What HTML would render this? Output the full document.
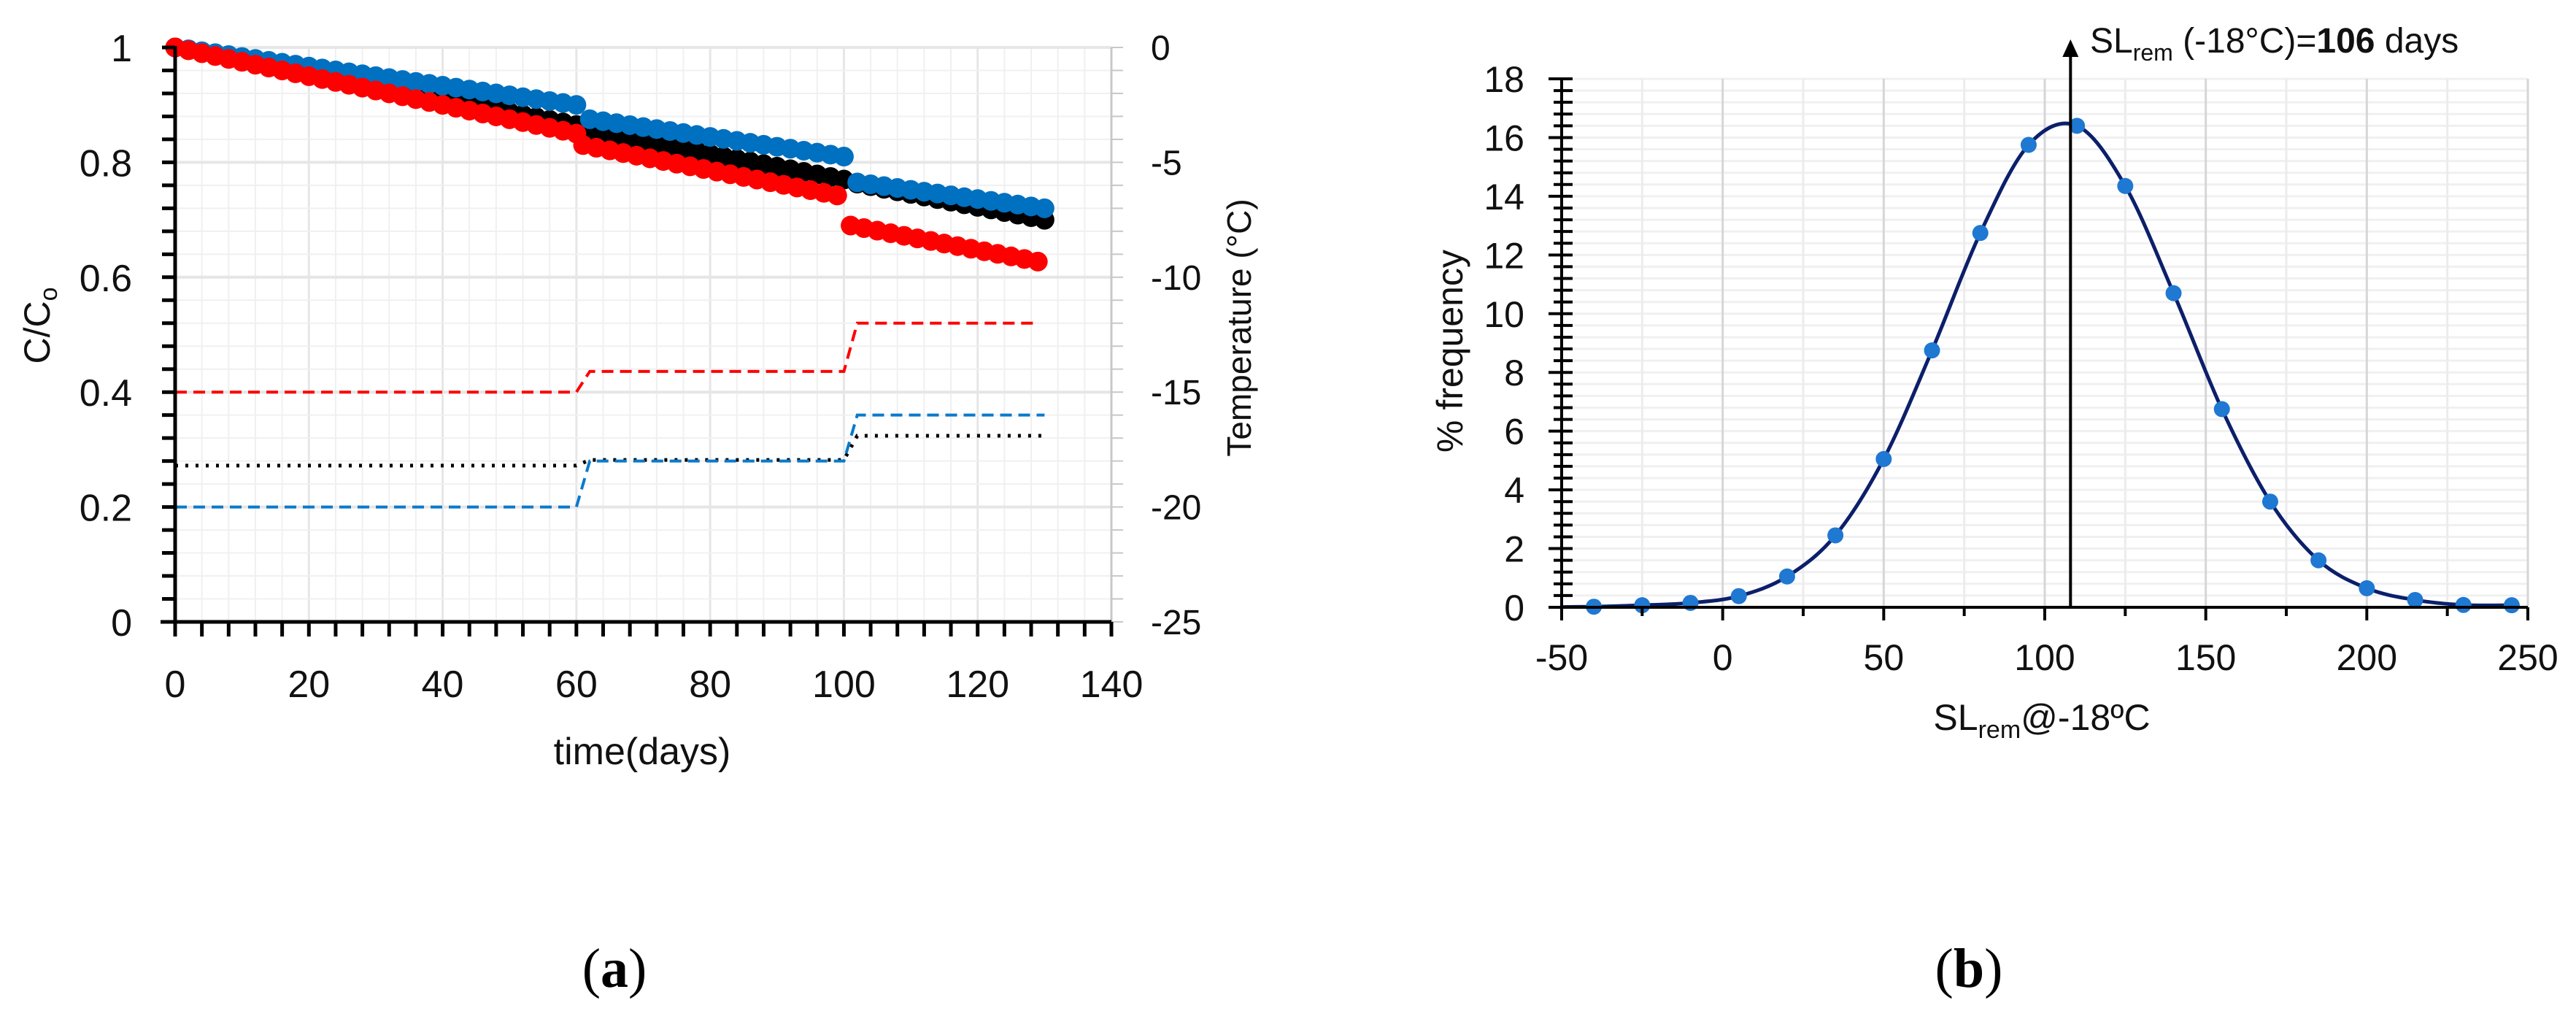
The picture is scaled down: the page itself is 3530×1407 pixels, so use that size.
<!DOCTYPE html>
<html><head><meta charset="utf-8"><style>
html,body{margin:0;padding:0;background:#fff}
svg{display:block}
text{font-family:"Liberation Sans Narrow","Liberation Sans",sans-serif}
</style></head><body>
<svg id="fig" width="3530" height="1407" viewBox="0 0 3530 1407" xmlns="http://www.w3.org/2000/svg">
<g id="pa"></g>
<g id="pb"></g>
<text x="842" y="1352" font-size="76" text-anchor="middle" style="font-family:'Liberation Serif',serif">(<tspan font-weight="bold">a</tspan>)</text>
<text x="2698" y="1352" font-size="76" text-anchor="middle" style="font-family:'Liberation Serif',serif">(<tspan font-weight="bold">b</tspan>)</text>
</svg>
<script>
// ---------- Panel A data ----------
const redC = [[0,1.0],[60,0.85],[61,0.83],[100,0.74],[101,0.69],[130,0.625]];
const blueC = [[0,1.0],[60,0.90],[62,0.875],[100,0.81],[102,0.765],[130,0.72]];
const blackC = [[0,1.0],[60,0.865],[62,0.855],[100,0.77],[102,0.763],[130,0.70]];
const redT = [[0,-15],[60,-15],[62,-14.1],[100,-14.1],[102,-12],[129,-12]];
const blueT = [[0,-20],[60,-20],[62,-18],[100,-18],[102,-16],[130,-16]];
const blackT = [[0,-18.2],[60,-18.2],[62,-17.95],[100,-17.95],[102,-16.9],[130,-16.9]];
const aXTicks = [0,20,40,60,80,100,120,140];
const aYTicks = [0,0.2,0.4,0.6,0.8,1];
const aY2Ticks = [0,-5,-10,-15,-20,-25];
// ---------- Panel B data ----------
const bX = [-40,-25,-10,5,20,35,50,65,80,95,110,125,140,155,170,185,200,215,230,245];
const bY = [0.02,0.07,0.15,0.38,1.05,2.45,5.05,8.75,12.75,15.75,16.4,14.35,10.7,6.75,3.6,1.6,0.65,0.25,0.08,0.07];
const bXTicks = [-50,0,50,100,150,200,250];
const bYTicks = [0,2,4,6,8,10,12,14,16,18];
const bMarker = 108;

const NS="http://www.w3.org/2000/svg";
function mk(parent,tag,attrs,text){const e=document.createElementNS(NS,tag);for(const k in attrs)e.setAttribute(k,attrs[k]);if(text!==undefined)e.textContent=text;parent.appendChild(e);return e;}

// ===== Panel A =====
const pa=document.getElementById('pa');
const AX0=240,AX1=1523,AY0=852,AY1=65;
const ax=d=>AX0+(AX1-AX0)*d/140;
const ay=c=>AY0+(AY1-AY0)*c;
const ay2=t=>AY0+(AY1-AY0)*(t+25)/25;
for(let d=0;d<=140;d+=4){const l=mk(pa,'line',{x1:ax(d),x2:ax(d),y1:AY1,y2:AY0,stroke:d%20===0?'#e6e6e6':'#f0f0f0','stroke-width':d%20===0?3:2});

}
for(let i=0;i<=25;i++){const c=i*0.04;const l=mk(pa,'line',{x1:AX0,x2:AX1,y1:ay(c),y2:ay(c),stroke:i%5===0?'#e6e6e6':'#f0f0f0','stroke-width':i%5===0?4:2});

}
const ra=mk(pa,'line',{x1:AX1,x2:AX1,y1:AY1,y2:AY0+14,stroke:'#c8c8c8','stroke-width':3});


for(let t=0;t>=-25;t-=1){const l=mk(pa,'line',{x1:AX1,x2:AX1+16,y1:ay2(t),y2:ay2(t),stroke:'#c8c8c8','stroke-width':2});

}
aY2Ticks.forEach(t=>{const e=mk(pa,'text',{x:1577,y:ay2(t)+17,'font-size':48,'text-anchor':'start',fill:'#111'},String(t));

});
function tline(arr,color,dash,w,name){const p=mk(pa,'polyline',{points:arr.map(q=>ax(q[0])+','+ay2(q[1])).join(' '),fill:'none',stroke:color,'stroke-width':w,'stroke-dasharray':dash});

}
tline(redT,'#ff0000','16 9',4,'red-temperature-line');
tline(blackT,'#000','4 10',5,'black-temperature-line');
tline(blueT,'#0a7acb','16 9',4,'blue-temperature-line');
function dots(arr,color,name){const g=mk(pa,'g',{});
const pts=[];for(let i=0;i<arr.length;i+=2){const s=arr[i][0],e=arr[i+1][0],vs=arr[i][1],ve=arr[i+1][1];for(let d=s;d<=e+0.01;d+=2){pts.push([d,vs+(ve-vs)*(d-s)/(e-s)]);}}
pts.forEach(p=>{const c=mk(g,'circle',{cx:ax(p[0]),cy:ay(p[1]),r:13.5,fill:color});

});}
dots(blackC,'#000','black-concentration-series');
dots(blueC,'#0070c0','blue-concentration-series');
dots(redC,'#ff0000','red-concentration-series');
const la=mk(pa,'line',{x1:AX0,x2:AX0,y1:AY1-2,y2:AY0+2,stroke:'#000','stroke-width':5});


for(let i=0;i<=25;i++){const l=mk(pa,'line',{x1:AX0-18,x2:AX0,y1:ay(i*0.04),y2:ay(i*0.04),stroke:'#000','stroke-width':5});

}
aYTicks.forEach(c=>{const e=mk(pa,'text',{x:181,y:ay(c)+19,'font-size':52,'text-anchor':'end',fill:'#111'},String(c));

});
const xa=mk(pa,'line',{x1:AX0-20,x2:AX1,y1:AY0,y2:AY0,stroke:'#000','stroke-width':5});


for(let d=0;d<=140;d+=4){const l=mk(pa,'line',{x1:ax(d),x2:ax(d),y1:AY0,y2:AY0+20,stroke:'#000','stroke-width':5});

}
aXTicks.forEach(d=>{const e=mk(pa,'text',{x:ax(d),y:955,'font-size':52,'text-anchor':'middle',fill:'#111'},String(d));

});
let e=mk(pa,'text',{x:880,y:1047,'font-size':52,'text-anchor':'middle',fill:'#111'},'time(days)');


e=mk(pa,'text',{x:0,y:0,'font-size':50,'text-anchor':'middle',fill:'#111',transform:'translate(68,446) rotate(-90)'});
e.innerHTML='C/C<tspan font-size="34" dy="10">o</tspan>';


e=mk(pa,'text',{x:0,y:0,'font-size':46,'text-anchor':'middle',fill:'#111',transform:'translate(1714,449) rotate(-90)'},'Temperature (°C)');



// ===== Panel B =====
const pb=document.getElementById('pb');
const BX0=2140,BX1=3464,BY0=832,BY1=108;
const bx=v=>BX0+(BX1-BX0)*(v+50)/300;
const by=v=>BY0+(BY1-BY0)*v/18;
for(let i=0;i<=45;i++){const v=i*0.4;const l=mk(pb,'line',{x1:BX0,x2:BX1,y1:by(v),y2:by(v),stroke:'#f0f0f0','stroke-width':3});

}
for(let v=-25;v<=250;v+=25){const l=mk(pb,'line',{x1:bx(v),x2:bx(v),y1:BY1,y2:BY0,stroke:v%50===0?'#d6d6d6':'#ececec','stroke-width':v%50===0?3:3});

}
const P=bX.map((v,i)=>[bx(v),by(bY[i])]);
let d='M'+bx(-50)+','+by(0.01)+' L'+P[0][0]+','+P[0][1];
for(let i=0;i<P.length-1;i++){const p0=P[Math.max(0,i-1)],p1=P[i],p2=P[i+1],p3=P[Math.min(P.length-1,i+2)];
d+=' C'+(p1[0]+(p2[0]-p0[0])/6)+','+(p1[1]+(p2[1]-p0[1])/6)+' '+(p2[0]-(p3[0]-p1[0])/6)+','+(p2[1]-(p3[1]-p1[1])/6)+' '+p2[0]+','+p2[1];}
const cv=mk(pb,'path',{d:d,fill:'none',stroke:'#0c1f6b','stroke-width':5});


P.forEach(p=>{const c=mk(pb,'circle',{cx:p[0],cy:p[1],r:11,fill:'#1f78d1'});

});
const bya=mk(pb,'line',{x1:BX0,x2:BX0,y1:BY1,y2:BY0+12,stroke:'#000','stroke-width':4});


for(let i=0;i<=45;i++){const major=i%5===0;const l=mk(pb,'line',{x1:BX0-(major?18:11),x2:BX0+15,y1:by(i*0.4),y2:by(i*0.4),stroke:'#000','stroke-width':4});

}
const bxa=mk(pb,'line',{x1:BX0-18,x2:BX1,y1:BY0,y2:BY0,stroke:'#000','stroke-width':4});


for(let v=-50;v<=250;v+=25){const l=mk(pb,'line',{x1:bx(v),x2:bx(v),y1:BY0,y2:BY0+(v%50===0?18:12),stroke:'#000','stroke-width':4});

}
bYTicks.forEach(v=>{const t=mk(pb,'text',{x:2089,y:by(v)+18,'font-size':50,'text-anchor':'end',fill:'#111'},String(v));

});
bXTicks.forEach(v=>{const t=mk(pb,'text',{x:bx(v),y:918,'font-size':50,'text-anchor':'middle',fill:'#111'},String(v));

});
e=mk(pb,'text',{x:2798,y:1000,'font-size':50,'text-anchor':'middle',fill:'#111'});
e.innerHTML='SL<tspan font-size="34" dy="11">rem</tspan><tspan dy="-11">@-18ºC</tspan>';


e=mk(pb,'text',{x:0,y:0,'font-size':50,'text-anchor':'middle',fill:'#111',transform:'translate(2004,481) rotate(-90)'},'% frequency');


const mx=bx(bMarker);
const al=mk(pb,'line',{x1:mx,x2:mx,y1:BY0,y2:72,stroke:'#000','stroke-width':4});


const ah=mk(pb,'polygon',{points:(mx-11)+',78 '+(mx+11)+',78 '+mx+',54',fill:'#000'});


e=mk(pb,'text',{x:2864,y:72,'font-size':48,fill:'#111'});
e.innerHTML='SL<tspan font-size="32" dy="11">rem</tspan><tspan dy="-11"> (-18°C)=</tspan><tspan font-weight="bold">106</tspan> days';


</script>
</body></html>
